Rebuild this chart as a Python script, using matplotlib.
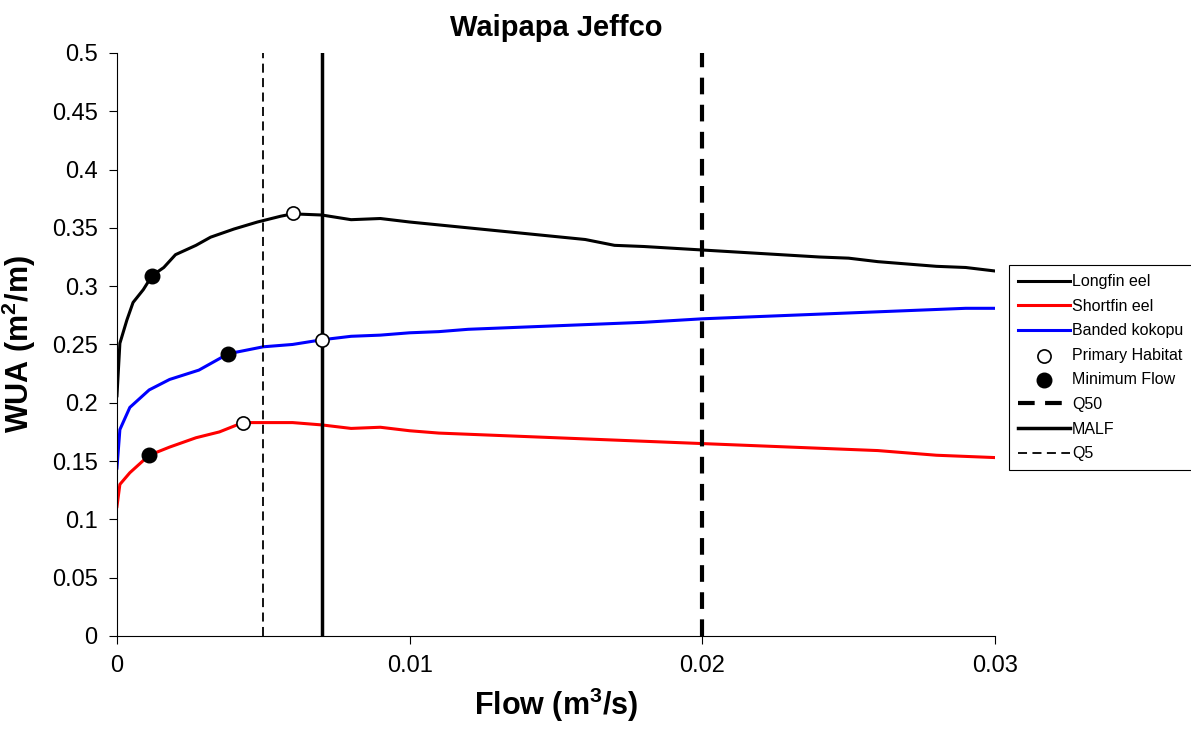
import numpy as np
import matplotlib
matplotlib.use('Agg')
import matplotlib.pyplot as plt
from matplotlib.ticker import FuncFormatter

plt.rcParams['font.family'] = ['Liberation Sans', 'DejaVu Sans']
plt.rcParams['mathtext.fontset'] = 'custom'
plt.rcParams['mathtext.rm'] = 'Liberation Sans'
plt.rcParams['mathtext.bf'] = 'Liberation Sans:bold'

# flow (m3/s) and WUA (m2/m)
flow = [0, 0.0001, 0.00034, 0.00055, 0.0009, 0.0012, 0.0016, 0.002, 0.0027, 0.0032,
        0.004, 0.0048, 0.0056, 0.006, 0.007, 0.008, 0.009, 0.010, 0.012, 0.014,
        0.016, 0.017, 0.018, 0.020, 0.022, 0.024, 0.025, 0.026, 0.028, 0.029, 0.030]
longfin = [0.206, 0.251, 0.271, 0.286, 0.297, 0.309, 0.316, 0.327, 0.335, 0.342,
           0.349, 0.355, 0.360, 0.362, 0.361, 0.357, 0.358, 0.355, 0.350, 0.345,
           0.340, 0.335, 0.334, 0.331, 0.328, 0.325, 0.324, 0.321, 0.317, 0.316, 0.313]

flow_b = [0, 0.0001, 0.00044, 0.0011, 0.0018, 0.0028, 0.0038, 0.005, 0.006, 0.007,
          0.008, 0.009, 0.010, 0.011, 0.012, 0.014, 0.016, 0.018, 0.020, 0.022,
          0.024, 0.026, 0.028, 0.029, 0.030]
banded = [0.144, 0.177, 0.196, 0.211, 0.220, 0.228, 0.242, 0.248, 0.250, 0.254,
          0.257, 0.258, 0.260, 0.261, 0.263, 0.265, 0.267, 0.269, 0.272, 0.274,
          0.276, 0.278, 0.280, 0.281, 0.281]

flow_s = [0, 0.0001, 0.00044, 0.0011, 0.0018, 0.0027, 0.0035, 0.0043, 0.005, 0.006,
          0.007, 0.008, 0.009, 0.010, 0.011, 0.013, 0.015, 0.017, 0.020, 0.022,
          0.024, 0.026, 0.027, 0.028, 0.030]
shortfin = [0.111, 0.130, 0.140, 0.155, 0.162, 0.170, 0.175, 0.183, 0.183, 0.183,
            0.181, 0.178, 0.179, 0.176, 0.174, 0.172, 0.170, 0.168, 0.165, 0.163,
            0.161, 0.159, 0.157, 0.155, 0.153]

primary_x = [0.006, 0.0043, 0.007]
primary_y = [0.363, 0.183, 0.254]
minflow_x = [0.0012, 0.0011, 0.0038]
minflow_y = [0.309, 0.155, 0.242]

q50 = 0.02
malf = 0.007
q5 = 0.005

fig = plt.figure(figsize=(11.91, 7.35), dpi=100)
ax = fig.add_axes([0.0982, 0.1347, 0.7372, 0.7933])

ax.plot(flow, longfin, color='black', lw=2.2, label='Longfin eel')
ax.plot(flow_s, shortfin, color='red', lw=2.2, label='Shortfin eel')
ax.plot(flow_b, banded, color='blue', lw=2.2, label='Banded kokopu')
ax.scatter(primary_x, primary_y, s=90, facecolor='white', edgecolor='black', lw=1.2,
           zorder=5, label='Primary Habitat')
ax.scatter(minflow_x, minflow_y, s=110, color='black', zorder=5, label='Minimum Flow')
ax.axvline(q50, color='black', lw=3, ls=(0, (4, 2.5)), label='Q50')
ax.axvline(malf, color='black', lw=2.5, label='MALF')
ax.axvline(q5, color='black', lw=1.3, ls=(0, (5, 3)), label='Q5')

ax.set_xlim(0, 0.03)
ax.set_ylim(0, 0.5)
ax.set_xticks([0, 0.01, 0.02, 0.03])
ax.set_yticks(np.arange(0, 0.501, 0.05))
ax.xaxis.set_major_formatter(FuncFormatter(lambda v, p: '0' if v == 0 else f'{v:.2f}'))
ax.yaxis.set_major_formatter(FuncFormatter(lambda v, p: '0' if abs(v) < 1e-9 else f'{v:g}'))
ax.tick_params(direction='out', length=6, labelsize=17, pad=8)
for s in ['top', 'right']:
    ax.spines[s].set_visible(False)

ax.set_title('Waipapa Jeffco', fontsize=21, fontweight='bold', pad=12)
ax.set_xlabel(r'Flow (m$\mathbf{^3}$/s)', fontsize=22, fontweight='bold', labelpad=6)
ax.set_ylabel(r'WUA (m$\mathbf{^2}$/m)', fontsize=22, fontweight='bold', labelpad=10)

leg = fig.legend(loc='upper left', bbox_to_anchor=(0.847, 0.639), fontsize=11.5,
                 frameon=True, fancybox=False, edgecolor='black', framealpha=1,
                 handlelength=3.3, handletextpad=0.1, borderpad=0.55, labelspacing=0.6,
                 borderaxespad=0)
leg.get_frame().set_linewidth(0.8)

fig.savefig('out.png', dpi=100)
